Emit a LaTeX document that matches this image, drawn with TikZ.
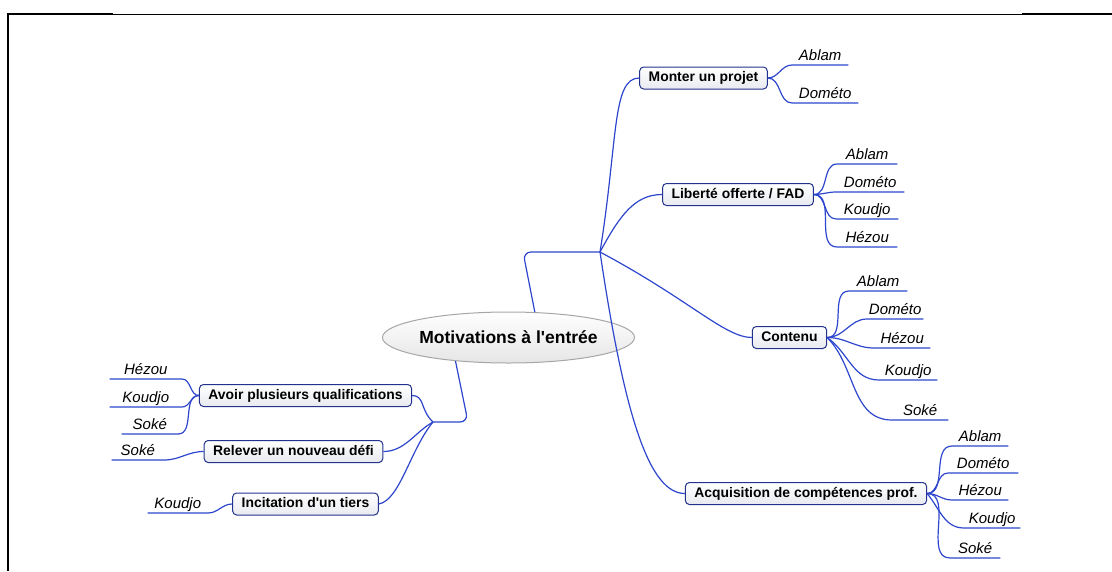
\documentclass[tikz,border=0pt]{standalone}
\usepackage{fontspec}
\setmainfont{Liberation Sans}
\usepackage{xcolor}
\usepackage{tikz}
\usetikzlibrary{shapes,shapes.geometric,positioning,calc}

\definecolor{mmblue}{RGB}{45,70,205}
\definecolor{mmdark}{RGB}{35,50,140}
\definecolor{mmfill}{RGB}{232,234,240}

\tikzset{
    link/.style={draw=mmblue, line width=1.2pt},
    topic/.style={draw=mmdark, line width=1pt, rounded corners=4pt, top color=white, bottom color=mmfill,
        inner xsep=9pt, inner ysep=4.5pt, text height=10pt, text depth=3pt, font=\fontsize{13.9}{16}\selectfont\bfseries},
    central/.style={ellipse, draw=gray!70, line width=1pt, top color=white, bottom color=gray!20,
        minimum width=213pt, minimum height=51pt, inner sep=0pt, font=\fontsize{17.5}{20}\selectfont\bfseries},
    leaf/.style={anchor=south west, inner xsep=0pt, inner ysep=1pt, text height=10.5pt, text depth=3pt,
        font=\fontsize{15}{18}\selectfont\itshape},
    leafl/.style={leaf, anchor=south east}
}

\begin{document}
\begin{tikzpicture}[x=1pt, y=-1pt]
    \useasboundingbox (0,0) rectangle (1112,571);
    % frame
    \draw[line width=2pt] (7.5,571) -- (7.5,14) -- (113,14);
    \draw[line width=1pt] (113,14) -- (1022,14);
    \draw[line width=2pt] (1022,14) -- (1112,14);

    \node[central] (motiv) at (508.5,337.5) {Motivations à l\textquotesingle entrée};
    \coordinate (rhub) at (600,252);
    \coordinate (lhub) at (433,422);
    \draw[link, rounded corners=8pt] (motiv.44) -- (523,252) -- (rhub);
    \draw[link, rounded corners=8pt] (motiv.204) -- (468,422) -- (lhub);

    % right branches
    \node[topic] (monter) at (703.5,78) {Monter un projet};
    \node[topic] (liberte) at (738,194.5) {Liberté offerte / FAD};
    \node[topic] (contenu) at (789.5,337.5) {Contenu};
    \node[topic] (acq) at (806,493.5) {Acquisition de compétences prof.};
    \draw[link] (rhub) .. controls (618,140) and (612,78) .. (monter.west);
    \draw[link] (rhub) .. controls (620,215) and (635,194.5) .. (liberte.west);
    \draw[link] (rhub) .. controls (690,300) and (725,337.5) .. (contenu.west);
    \draw[link] (rhub) .. controls (625,420) and (650,493.5) .. (acq.west);

    \node[leaf, minimum width=56pt] (mon1) at (792,65) {Ablam};
    \node[leaf, minimum width=66pt] (mon2) at (792,103) {Dométo};
    \draw[link] (monter.east) to[out=0, in=180] (mon1.south west) -- (mon1.south east);
    \draw[link] (monter.east) to[out=0, in=180] (mon2.south west) -- (mon2.south east);

    \node[leaf, minimum width=60pt] (lib1) at (837,164) {Ablam};
    \node[leaf, minimum width=68pt] (lib2) at (836,192) {Dométo};
    \node[leaf, minimum width=62pt] (lib3) at (836,219) {Koudjo};
    \node[leaf, minimum width=60pt] (lib4) at (837,247) {Hézou};
    \draw[link] (liberte.east) to[out=0, in=180] (lib1.south west) -- (lib1.south east);
    \draw[link] (liberte.east) to[out=0, in=180] (lib2.south west) -- (lib2.south east);
    \draw[link] (liberte.east) to[out=0, in=180] (lib3.south west) -- (lib3.south east);
    \draw[link] (liberte.east) to[out=0, in=180] (lib4.south west) -- (lib4.south east);

    \node[leaf, minimum width=58pt] (con1) at (849,291) {Ablam};
    \node[leaf, minimum width=56pt] (con2) at (867,319) {Dométo};
    \node[leaf, minimum width=56pt] (con3) at (874,348) {Hézou};
    \node[leaf, minimum width=58pt] (con4) at (879,380) {Koudjo};
    \node[leaf, minimum width=56pt] (con5) at (892,420) {Soké};
    \draw[link] (contenu.east) to[out=0, in=180] (con1.south west) -- (con1.south east);
    \draw[link] (contenu.east) to[out=0, in=180] (con2.south west) -- (con2.south east);
    \draw[link] (contenu.east) to[out=0, in=180] (con3.south west) -- (con3.south east);
    \draw[link] (contenu.east) to[out=-35, in=180] (con4.south west) -- (con4.south east);
    \draw[link] (contenu.east) to[out=-45, in=180] (con5.south west) -- (con5.south east);

    \node[leaf, minimum width=56pt] (acq1) at (952,446) {Ablam};
    \node[leaf, minimum width=70pt] (acq2) at (948,473) {Dométo};
    \node[leaf, minimum width=56pt] (acq3) at (952,500) {Hézou};
    \node[leaf, minimum width=56pt] (acq4) at (964,528) {Koudjo};
    \node[leaf, minimum width=50pt] (acq5) at (950,558) {Soké};
    \draw[link] (acq.east) to[out=0, in=180] (acq1.south west) -- (acq1.south east);
    \draw[link] (acq.east) to[out=0, in=180] (acq2.south west) -- (acq2.south east);
    \draw[link] (acq.east) to[out=0, in=180] (acq3.south west) -- (acq3.south east);
    \draw[link] (acq.east) to[out=-50, in=180] (acq4.south west) -- (acq4.south east);
    \draw[link] (acq.east) to[out=0, in=180] (acq5.south west) -- (acq5.south east);

    % left branches
    \node[topic] (avoir) at (305.5,395.5) {Avoir plusieurs qualifications};
    \node[topic] (relever) at (293.5,451.5) {Relever un nouveau défi};
    \node[topic] (incit) at (305.5,504) {Incitation d\textquotesingle un tiers};
    \draw[link] (avoir.east) .. controls (425,395.5) and (420,410) .. (lhub);
    \draw[link] (relever.east) .. controls (405,451.5) and (415,432) .. (lhub);
    \draw[link] (incit.east) .. controls (400,500) and (410,450) .. (lhub);

    \node[leafl, minimum width=72pt] (av1) at (182,379) {Hézou};
    \node[leafl, minimum width=72pt] (av2) at (182,407) {Koudjo};
    \node[leafl, minimum width=56pt] (av3) at (178,434) {Soké};
    \draw[link] (avoir.west) to[out=180, in=0] (av1.south east) -- (av1.south west);
    \draw[link] (avoir.west) to[out=180, in=0] (av2.south east) -- (av2.south west);
    \draw[link] (avoir.west) to[out=180, in=0] (av3.south east) -- (av3.south west);

    \node[leafl, minimum width=52pt] (rel1) at (164,460) {Soké};
    \draw[link] (relever.west) to[out=180, in=0] (rel1.south east) -- (rel1.south west);

    \node[leafl, minimum width=60pt] (inc1) at (208,513) {Koudjo};
    \draw[link] (incit.west) to[out=180, in=0] (inc1.south east) -- (inc1.south west);
\end{tikzpicture}
\end{document}
